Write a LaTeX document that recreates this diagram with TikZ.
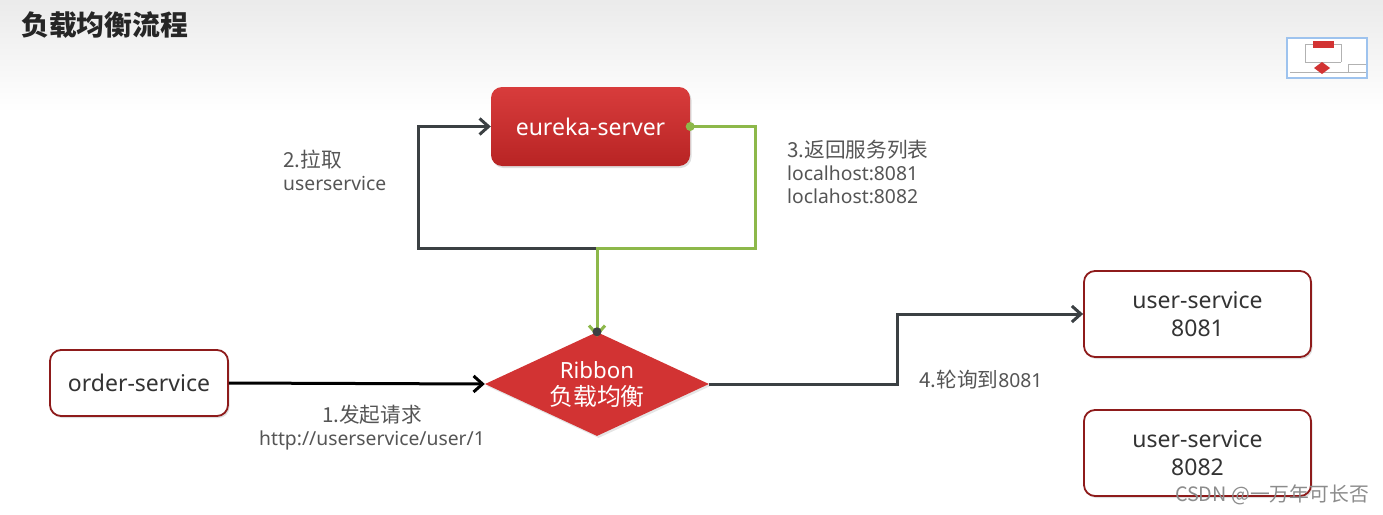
\documentclass[tikz,border=0pt]{standalone}
\usepackage{fontspec}
\setmainfont{Noto Sans}
\newfontfamily\cjk[Scale=1.07]{Noto Sans CJK SC}
\usetikzlibrary{arrows.meta,shapes.geometric,shadows}
\definecolor{redfill}{HTML}{D23333}
\definecolor{redtop}{HTML}{D83C3C}
\definecolor{redbot}{HTML}{B82424}
\definecolor{redborder}{HTML}{8E1B1B}
\definecolor{greenline}{HTML}{8DB84A}
\definecolor{darkline}{HTML}{3B4043}
\definecolor{labelgray}{HTML}{555555}
\definecolor{nodetext}{HTML}{333333}
\definecolor{thumbblue}{HTML}{9EC3EE}
\tikzset{
  svcbox/.style={draw=redborder, line width=1.8pt, fill=white, rounded corners=11pt,
    text=nodetext, align=center, font=\fontsize{23}{27.5}\selectfont,
    drop shadow={opacity=0.25, shadow xshift=1.5pt, shadow yshift=-2pt}},
  redbox/.style={rounded corners=11pt, top color=redtop, bottom color=redbot, text=white,
    font=\fontsize{23}{27.5}\selectfont,
    drop shadow={opacity=0.25, shadow xshift=1.5pt, shadow yshift=-2pt}},
  lbl/.style={text=labelgray, font=\fontsize{19.3}{23}\selectfont, inner sep=0pt},
  conn/.style={line width=3pt, darkline, -{Straight Barb[length=9pt,width=16pt,line width=3pt]}},
  gconn/.style={line width=3pt, greenline},
}
\begin{document}
\begin{tikzpicture}[x=1pt,y=-1pt]
\useasboundingbox (0,0) rectangle (1383,514);
% background band
\fill[white] (0,0) rectangle (1383,514);
\shade[top color=black!8, bottom color=white] (0,0) rectangle (1383,112);
% title
\node[anchor=west, inner sep=0pt, font=\cjk\bfseries\fontsize{26}{30}\selectfont, text=black!85] (title) at (21,25) {负载均衡流程};
% thumbnail
\node[draw=thumbblue, line width=1.5pt, fill=white, minimum width=80pt, minimum height=40pt, inner sep=0pt,
  drop shadow={opacity=0.15, shadow xshift=0pt, shadow yshift=0pt}] (thumb) at (1327,58) {};
\fill[redfill] (1313,41) rectangle (1334,48);
\draw[black!30, line width=0.6pt] (1305,44) -- (1313,44) (1334,44) -- (1341,44) -- (1341,62) (1305,44) -- (1305,62) -- (1341,62) (1290,72) -- (1366,72) (1348,72) -- (1348,64) -- (1366,64);
\fill[redfill] (1322,62) -- (1330,68) -- (1322,74) -- (1314,68) -- cycle;

% nodes
\node[redbox, minimum width=199pt, minimum height=79pt] (eureka) at (590.5,126.5) {eureka-server};
\node[svcbox, minimum width=178pt, minimum height=66pt] (order) at (139,383) {order-service};
\node[svcbox, minimum width=227pt, minimum height=86pt] (us1) at (1197.5,314) {user-service\\8081};
\node[svcbox, minimum width=227pt, minimum height=86pt] (us2) at (1197.5,453) {user-service\\8082};
\node[diamond, fill=redfill, minimum width=224pt, minimum height=104pt, inner sep=0pt, aspect=2.15,
  drop shadow={opacity=0.2, shadow xshift=1.5pt, shadow yshift=-2pt}] (rib) at (597,384) {};
\node[text=white, align=center, font=\fontsize{22.3}{27}\selectfont, inner sep=0pt] (ribtext) at (597,384) {Ribbon\\{\cjk 负载均衡}};

% corner coordinates
\coordinate (j) at (597,248);
\coordinate (pl) at (418,248);
\coordinate (pt) at (418,126.5);
\coordinate (gr) at (755,126.5);
\coordinate (gb) at (755,248);
\coordinate (r1) at (897,384);
\coordinate (r2) at (897,314);

% connectors
\draw[conn, black] (order.east) -- (rib.west);
\draw[line width=3pt, darkline, -{Straight Barb[length=9pt,width=16pt,line width=3pt]}] (rib.north) -- (j) -- (pl) -- (pt) -- (eureka.west);
\draw[gconn, -{Straight Barb[length=9pt,width=16pt,line width=3pt]}] (eureka.east) -- (gr) -- (gb) -- (j) -- ([yshift=-5pt]rib.north);
\fill[greenline] (eureka.east) circle (4.5pt);
\fill[darkline] (rib.north) circle (4.5pt);
\draw[conn] (rib.east) -- (r1) -- (r2) -- (us1.west);

% labels
\node[lbl, align=center] (l1) at (372,428) {{\cjk 1.发起请求}\\http://userservice/user/1};
\node[lbl, align=left, anchor=west] (l2) at (283,170) {{\cjk 2.拉取}\\userservice};
\node[lbl, align=left, anchor=west] (l3) at (787,172) {{\cjk 3.返回服务列表}\\localhost:8081\\loclahost:8082};
\node[lbl, anchor=west] (l4) at (919,380) {{\cjk 4.轮询到}8081};

% watermark
\node[anchor=east, inner sep=0pt, text=black!45, font=\cjk\fontsize{18.5}{20}\selectfont] (wm) at (1369,495) {CSDN @一万年可长否};
\end{tikzpicture}
\end{document}
